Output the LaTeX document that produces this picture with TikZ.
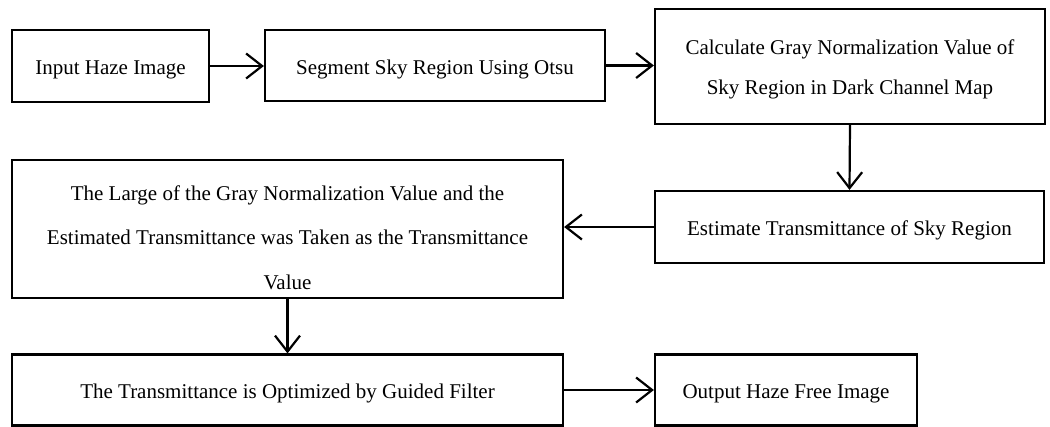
\documentclass[tikz,border=0pt]{standalone}
\usepackage{fontspec}
\setmainfont{Liberation Serif}
\usetikzlibrary{arrows.meta}

\begin{document}
\begin{tikzpicture}[x=1pt,y=-1pt,line width=2.2pt]
	\useasboundingbox (0,0) rectangle (1050,426);
	\tikzstyle{etape}=[draw,inner sep=0pt,align=center,font=\fontsize{21pt}{40pt}\selectfont]
	\tikzstyle{ligne}=[etape,text height=22pt,text depth=5pt]
	\tikzstyle{estun}=[-{Straight Barb[length=16pt,width=25pt]}]

	\node[ligne,minimum width=197,minimum height=72] (input) at (110.5,66) {Input Haze Image};
	\node[ligne,minimum width=340,minimum height=71] (otsu) at (435,65.5) {Segment Sky Region Using Otsu};
	\node[etape,minimum width=390,minimum height=115,text height=55.5pt,text depth=0pt] (gray) at (850,66.5) {Calculate Gray Normalization Value of\\Sky Region in Dark Channel Map};
	\node[ligne,minimum width=389,minimum height=72] (estim) at (849.5,227) {Estimate Transmittance of Sky Region};
	\node[etape,minimum width=551,minimum height=138,text height=120pt,text depth=0pt,font=\fontsize{21pt}{44.5pt}\selectfont] (large) at (287.5,229) {The Large of the Gray Normalization Value and the\\Estimated Transmittance was Taken as the Transmittance\\Value};
	\node[ligne,minimum width=551,minimum height=71] (guided) at (287.5,390) {The Transmittance is Optimized by Guided Filter};
	\node[ligne,minimum width=262,minimum height=71] (output) at (786,390) {Output Haze Free Image};

	\draw[estun] (input.east) -- (input.east -| otsu.west);
	\draw[estun] (otsu.east) -- (otsu.east -| gray.west);
	\draw[estun] (gray.south) -- (estim.north);
	\draw[estun] (estim.west) -- (estim.west -| large.east);
	\draw[estun] (large.south) -- (guided.north);
	\draw[estun] (guided.east) -- (output.west);
\end{tikzpicture}
\end{document}
